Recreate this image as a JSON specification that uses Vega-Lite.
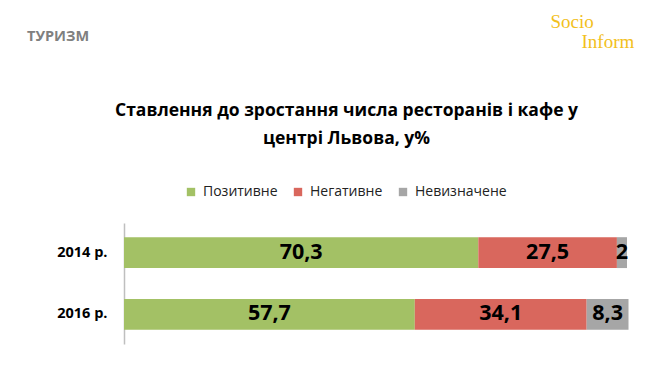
{
  "$schema": "https://vega.github.io/schema/vega-lite/v6.json",
  "autosize": {"type": "none"},
  "width": 504,
  "height": 121,
  "padding": {"left": 124, "top": 223, "right": 44, "bottom": 41},
  "background": "#ffffff",
  "title": {
    "text": "ТУРИЗМ",
    "anchor": "start",
    "frame": "group",
    "orient": "top",
    "dx": -97,
    "offset": -32,
    "font": "Open Sans",
    "fontSize": 14.5,
    "fontWeight": "bold",
    "color": "#808080"
  },
  "data": {
    "values": [
      {"year": "2014 р.", "cat": "Позитивне", "o": 1, "value": 70.3},
      {"year": "2014 р.", "cat": "Негативне", "o": 2, "value": 27.5},
      {"year": "2014 р.", "cat": "Невизначене", "o": 3, "value": 2},
      {"year": "2016 р.", "cat": "Позитивне", "o": 1, "value": 57.7},
      {"year": "2016 р.", "cat": "Негативне", "o": 2, "value": 34.1},
      {"year": "2016 р.", "cat": "Невизначене", "o": 3, "value": 8.3}
    ]
  },
  "transform": [
    {"stack": "value", "groupby": ["year"], "sort": [{"field": "o", "order": "ascending"}], "as": ["x0", "x1"]},
    {"calculate": "(datum.x0 + datum.x1) / 2", "as": "mid"}
  ],
  "layer": [
    {
      "mark": {"type": "bar"},
      "encoding": {
        "y": {
          "field": "year",
          "type": "nominal",
          "sort": ["2014 р.", "2016 р."],
          "scale": {"paddingInner": 0.5, "paddingOuter": 0.23},
          "axis": {
            "orient": "left",
            "domain": true,
            "domainColor": "#bfbfbf",
            "domainWidth": 1.5,
            "ticks": false,
            "labelFont": "Open Sans",
            "labelFontSize": 14.5,
            "labelFontWeight": "bold",
            "labelColor": "#000000",
            "labelPadding": 17,
            "title": "Socio",
            "titleAngle": 0,
            "titleX": 426,
            "titleY": -211,
            "titleAlign": "left",
            "titleBaseline": "top",
            "titleFont": "Liberation Serif",
            "titleFontSize": 19,
            "titleFontWeight": "normal",
            "titleColor": "#f2c01c"
          }
        },
        "x": {
          "field": "x0",
          "type": "quantitative",
          "scale": {"domain": [0, 100], "nice": false},
          "axis": {
            "orient": "top",
            "domain": false,
            "ticks": false,
            "labels": false,
            "grid": false,
            "title": ["Ставлення до зростання числа ресторанів і кафе у", "центрі Львова, у%"],
            "titleX": 222,
            "titleY": -122,
            "titleAlign": "center",
            "titleBaseline": "top",
            "titleFont": "Open Sans",
            "titleFontSize": 17.5,
            "titleFontWeight": "bold",
            "titleLineHeight": 28,
            "titleColor": "#000000"
          }
        },
        "x2": {"field": "x1"},
        "color": {
          "field": "cat",
          "type": "nominal",
          "scale": {
            "domain": ["Позитивне", "Негативне", "Невизначене"],
            "range": ["#a3c165", "#d9675d", "#a6a6a6"]
          },
          "legend": {
            "orient": "none",
            "direction": "horizontal",
            "legendX": 60,
            "legendY": -38,
            "title": null,
            "symbolType": "square",
            "symbolSize": 70,
            "symbolStrokeWidth": 0,
            "labelFont": "Open Sans",
            "labelFontSize": 14,
            "labelColor": "#222222",
            "columnPadding": 13,
            "labelOffset": 5
          }
        }
      }
    },
    {
      "mark": {"type": "text", "font": "Open Sans", "fontSize": 21.5, "fontWeight": "bold", "color": "#000000"},
      "encoding": {
        "y": {
          "field": "year",
          "type": "nominal",
          "sort": ["2014 р.", "2016 р."],
          "axis": {
            "orient": "right",
            "domain": false,
            "ticks": false,
            "labels": false,
            "grid": false,
            "title": "Inform",
            "titleAngle": 0,
            "titleX": -47,
            "titleY": -191,
            "titleAlign": "left",
            "titleBaseline": "top",
            "titleFont": "Liberation Serif",
            "titleFontSize": 19,
            "titleFontWeight": "normal",
            "titleColor": "#f2c01c"
          }
        },
        "x": {"field": "mid", "type": "quantitative"},
        "text": {"field": "value", "type": "quantitative", "format": ".1~f"}
      }
    }
  ],
  "resolve": {"axis": {"y": "independent"}},
  "config": {
    "view": {"stroke": null},
    "locale": {"number": {"decimal": ",", "thousands": " ", "grouping": [3], "currency": ["", ""]}}
  }
}
